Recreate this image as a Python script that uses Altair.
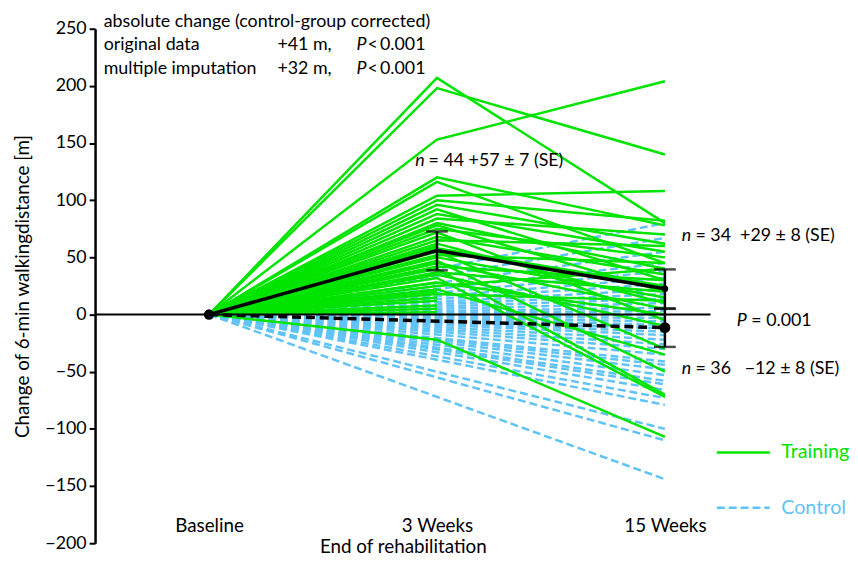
import altair as alt
import pandas as pd

# ---------------- data ----------------
stages = [0, 1, 2]
stage_labels = ["Baseline", "3 Weeks", "15 Weeks"]

# Training group: change at 3 weeks and at 15 weeks (None = no 15-week value)
train_3w = [207, 198, 153, 120, 116, 104, 100, 96, 92, 88, 84, 80, 78, 75, 72,
            68, 65, 62, 58, 55, 52, 50, 47, 45, 42, 40, 37, 35, 32, 28, 25, 22,
            18, -22, 45, 35, 28, 20, 15, 12, 8, 5, 2, 60]
train_15w = [80, 140, 204, 78, 45, 108, 82, 62, 30, 55, 70, 40, 20, 50, -5,
             35, 60, 10, 25, -30, 45, 15, -50, 5, 30, -70, 20, -10, -72, 0, 40, -35,
             12, -107, None, None, None, None, None, None, None, None, None, None]

# Control group: change at 15 weeks
control_15w = [80, 67, 55, 45, 38, 32, 27, 22, 18, 14, 10, 6, 3, 0, -3, -6, -9,
               -12, -15, -18, -22, -26, -30, -35, -41, -44, -48, -53, -58, -61,
               -66, -73, -79, -100, -110, -144]

# Group means with error bars
train_mean = [0, 56, 22.5]
train_lo = [None, 38.7, 5.4]
train_hi = [None, 72.7, 39.5]
ctrl_stage = [0, 2]
ctrl_mean = [0, -11.5]
ctrl_lo = [None, -28.3]
ctrl_hi = [None, 5.0]

GREEN = "#00e400"
BLUE = "#5fc3f6"
FONT = "Lato"
FS = 18
NB = "\u00a0"

# ---------------- tables ----------------
rows = []
for i, (a, b) in enumerate(zip(train_3w, train_15w)):
    rows.append({"id": i, "x": 0, "y": 0})
    rows.append({"id": i, "x": 1, "y": a})
    if b is not None:
        rows.append({"id": i, "x": 2, "y": b})
train_df = pd.DataFrame(rows)

rows = []
for i, c in enumerate(control_15w):
    rows.append({"id": i, "x": 0, "y": 0})
    rows.append({"id": i, "x": 2, "y": c})
ctrl_df = pd.DataFrame(rows)

tmean_df = pd.DataFrame({"x": stages, "y": train_mean, "lo": train_lo, "hi": train_hi})
cmean_df = pd.DataFrame({"x": ctrl_stage, "y": ctrl_mean, "lo": ctrl_lo, "hi": ctrl_hi})

label_expr = " : ".join(
    f"datum.value == {s} ? '{l}'" for s, l in zip(stages[:-1], stage_labels[:-1])
) + f" : '{stage_labels[-1]}'"

xs = alt.Scale(domain=[-0.5, 2.2], nice=False, zero=False)
ys = alt.Scale(domain=[-200, 250], nice=False, zero=False)

x_axis = alt.Axis(values=stages, labelExpr=label_expr, domain=False, ticks=False,
                  grid=False, offset=-28, labelFontSize=19, labelFont=FONT,
                  labelColor="black", labelPadding=1, title="End of rehabilitation",
                  titleFontSize=19, titleFont=FONT, titleFontWeight="normal",
                  titleColor="black", titlePadding=2)
y_axis = alt.Axis(values=list(range(-200, 251, 50)), grid=False, domainColor="black",
                  domainWidth=2.5, tickColor="black", tickWidth=2, tickSize=6,
                  labelFontSize=18, labelFont=FONT, labelColor="black", labelPadding=3,
                  title="Change of 6-min walkingdistance [m]", titleFontSize=19,
                  titleFont=FONT, titleFontWeight="normal", titleColor="black",
                  titlePadding=13)

X = alt.X("x:Q", scale=xs, axis=x_axis)
Y = alt.Y("y:Q", scale=ys, axis=y_axis)

ctrl_lines = alt.Chart(ctrl_df).mark_line(color=BLUE, strokeWidth=2.5, strokeDash=[8, 4]).encode(
    x=X, y=Y, detail="id:N")
train_lines = alt.Chart(train_df).mark_line(color=GREEN, strokeWidth=2.5).encode(
    x=X, y=Y, detail="id:N")

zero_line = alt.Chart(pd.DataFrame({"y": [0]})).mark_rule(color="black", strokeWidth=2).encode(y=Y)

tmean_line = alt.Chart(tmean_df).mark_line(color="black", strokeWidth=3.5).encode(x=X, y=Y)
cmean_line = alt.Chart(cmean_df).mark_line(color="black", strokeWidth=3.5, strokeDash=[9, 5]).encode(x=X, y=Y)

err_df = pd.concat([tmean_df, cmean_df]).dropna()
err_rule = alt.Chart(err_df).mark_rule(color="black", strokeWidth=2.5).encode(
    x=X, y=alt.Y("lo:Q", scale=ys), y2="hi:Q")
cap_lo = alt.Chart(err_df).mark_tick(color="black", orient="horizontal", size=22, thickness=2.5).encode(
    x=X, y=alt.Y("lo:Q", scale=ys))
cap_hi = alt.Chart(err_df).mark_tick(color="black", orient="horizontal", size=22, thickness=2.5).encode(
    x=X, y=alt.Y("hi:Q", scale=ys))

dots_df = pd.DataFrame({"x": [0, 2, 2], "y": [0, train_mean[2], ctrl_mean[1]], "s": [110, 45, 120]})
dots = alt.Chart(dots_df).mark_circle(color="black", opacity=1).encode(
    x=X, y=Y, size=alt.Size("s:Q", scale=None))

# ---------------- annotations ----------------
ann_normal = pd.DataFrame([
    {"x": -0.462, "y": 256.0, "t": "absolute change (control-group corrected)"},
    {"x": -0.462, "y": 235.3, "t": "original data"},
    {"x": 0.300, "y": 235.3, "t": "+41 m,"},
    {"x": 0.695, "y": 235.3, "t": "<\u20090.001"},
    {"x": -0.462, "y": 214.6, "t": "multiple imputation"},
    {"x": 0.300, "y": 214.6, "t": "+32 m,"},
    {"x": 0.695, "y": 214.6, "t": "<\u20090.001"},
    {"x": 0.963, "y": 134.0, "t": "= 44 +57 ± 7 (SE)"},
    {"x": 2.134, "y": 68.3, "t": f"= 34{NB}{NB}+29 ± 8 (SE)"},
    {"x": 2.379, "y": -5.3, "t": "= 0.001"},
    {"x": 2.134, "y": -48.0, "t": f"= 36{NB}{NB}{NB}\u221212 ± 8 (SE)"},
])
ann_italic = pd.DataFrame([
    {"x": 0.647, "y": 235.3, "t": "P"},
    {"x": 0.647, "y": 214.6, "t": "P"},
    {"x": 0.905, "y": 134.0, "t": "n"},
    {"x": 2.074, "y": 68.3, "t": "n"},
    {"x": 2.315, "y": -5.3, "t": "P"},
    {"x": 2.074, "y": -48.0, "t": "n"},
])
txt_n = alt.Chart(ann_normal).mark_text(align="left", baseline="middle", fontSize=FS, font=FONT,
                                        color="black").encode(x=X, y=Y, text="t:N")
txt_i = alt.Chart(ann_italic).mark_text(align="left", baseline="middle", fontSize=FS, font=FONT,
                                        fontStyle="italic", color="black").encode(x=X, y=Y, text="t:N")

# legend (drawn manually)
leg_names = ["Training", "Control"]
leg_df = pd.DataFrame({"name": leg_names, "y": [-120.6, -169.0], "x": [2.228, 2.228], "x2": [2.46, 2.46],
                       "tx": [2.51, 2.51]})
leg_green = alt.Chart(leg_df.iloc[[0]]).mark_rule(color=GREEN, strokeWidth=2.5).encode(
    x=X, x2="x2:Q", y=Y)
leg_blue = alt.Chart(leg_df.iloc[[1]]).mark_rule(color=BLUE, strokeWidth=2.5, strokeDash=[8, 4]).encode(
    x=X, x2="x2:Q", y=Y)
leg_t_green = alt.Chart(leg_df.iloc[[0]]).mark_text(align="left", baseline="middle", fontSize=20, font=FONT,
                                                    color=GREEN).encode(x=alt.X("tx:Q", scale=xs), y=Y, text="name:N")
leg_t_blue = alt.Chart(leg_df.iloc[[1]]).mark_text(align="left", baseline="middle", fontSize=20, font=FONT,
                                                   color=BLUE).encode(x=alt.X("tx:Q", scale=xs), y=Y, text="name:N")

chart = alt.layer(
    ctrl_lines, train_lines, zero_line, tmean_line, cmean_line, err_rule, cap_lo, cap_hi, dots,
    txt_n, txt_i, leg_green, leg_blue, leg_t_green, leg_t_blue
).properties(
    width=622, height=520, background="white",
    padding={"left": 5, "top": 2, "right": 0, "bottom": 0},
).configure_view(stroke=None)

chart.save("out.html", embed_options={"renderer": "svg", "actions": False})
